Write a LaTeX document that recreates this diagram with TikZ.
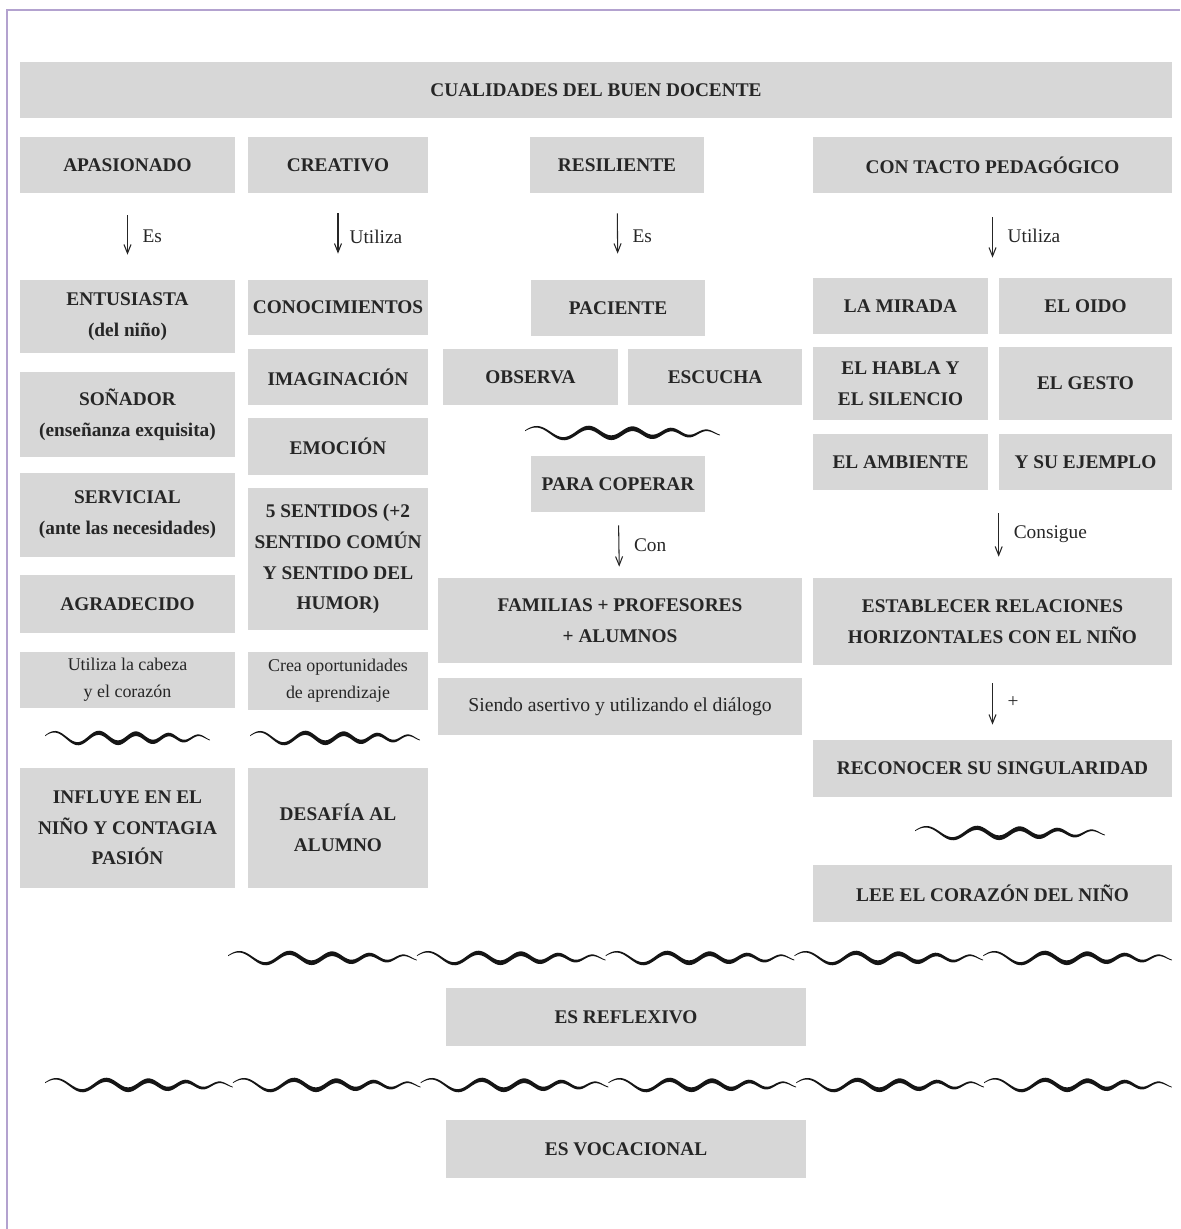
\documentclass[tikz,border=0pt]{standalone}
\usepackage{fontspec}
\setmainfont{Liberation Serif}
\usetikzlibrary{arrows.meta,positioning}
\definecolor{gris}{HTML}{D7D7D7}
\definecolor{texto}{HTML}{262626}
\definecolor{marco}{HTML}{B3A2CF}
\definecolor{tinta}{HTML}{151515}
\pgfmathdeclarefunction{ondaY}{1}{\pgfmathparse{(6.5-4*#1)*sin(360*(3.2*#1+1.4*#1*#1)+200)}}
\pgfmathdeclarefunction{ondaH}{1}{\pgfmathparse{0.4+2*sin(180*#1)}}
\newcommand{\onda}[3]{\fill[tinta] plot[variable=\t,domain=0:1,samples=80,smooth] ({#1+#3*\t},{#2+ondaY(\t)-ondaH(\t)}) -- plot[variable=\t,domain=0:1,samples=80,smooth] ({#1+#3*(1-\t)},{#2+ondaY(1-\t)+ondaH(1-\t)}) -- cycle;}
\tikzset{
  caja/.style={fill=gris,text=texto,inner sep=2pt,align=center,font=\bfseries\fontsize{11}{17.5}\selectfont},
  cajafina/.style={caja,font=\fontsize{10.2}{15.5}\selectfont},
  flecha/.style={-{Straight Barb[length=5pt,width=4pt]},line width=0.6pt,draw=texto},
  etiq/.style={font=\fontsize{11}{13}\selectfont,text=texto,right=5pt}
}
\begin{document}
\begin{tikzpicture}[x=0.02cm,y=-0.02cm]
\useasboundingbox (0,0) rectangle (1180,1229);
\draw[marco,line width=1.2pt] (1180,10) -- (7,10) -- (7,1229);
\node[caja,minimum width=23.04cm,minimum height=1.12cm] (titulo) at (596,90) {CUALIDADES DEL BUEN DOCENTE};
\node[caja,minimum width=4.3cm,minimum height=1.12cm] (apas) at (127.5,165) {APASIONADO};
\node[caja,minimum width=3.6cm,minimum height=1.12cm] (creat) at (338,165) {CREATIVO};
\node[caja,minimum width=3.48cm,minimum height=1.12cm] (resil) at (617,165) {RESILIENTE};
\node[caja,minimum width=7.18cm,minimum height=1.12cm] (tacto) at (992.5,165) {CON TACTO PEDAGÓGICO};
\node[caja,minimum width=4.3cm,minimum height=1.46cm] (entus) at (127.5,316.5) {ENTUSIASTA\\(del niño)};
\node[caja,minimum width=4.3cm,minimum height=1.7cm] (sonad) at (127.5,414.5) {SOÑADOR\\(enseñanza exquisita)};
\node[caja,minimum width=4.3cm,minimum height=1.68cm] (servi) at (127.5,515) {SERVICIAL\\(ante las necesidades)};
\node[caja,minimum width=4.3cm,minimum height=1.16cm] (agrad) at (127.5,604) {AGRADECIDO};
\node[cajafina,minimum width=4.3cm,minimum height=1.12cm] (cabeza) at (127.5,680) {Utiliza la cabeza\\y el corazón};
\node[caja,minimum width=4.3cm,minimum height=2.4cm] (influ) at (127.5,828) {INFLUYE EN EL\\NIÑO Y CONTAGIA\\PASIÓN};
\node[caja,minimum width=3.6cm,minimum height=1.1cm] (conoc) at (338,307.5) {CONOCIMIENTOS};
\node[caja,minimum width=3.6cm,minimum height=1.12cm] (imagi) at (338,377) {IMAGINACIÓN};
\node[caja,minimum width=3.6cm,minimum height=1.14cm] (emoci) at (338,446.5) {EMOCIÓN};
\node[caja,minimum width=3.6cm,minimum height=2.84cm] (senti) at (338,559) {5 SENTIDOS (+2\\SENTIDO COMÚN\\Y SENTIDO DEL\\HUMOR)};
\node[cajafina,minimum width=3.6cm,minimum height=1.16cm] (crea) at (338,681) {Crea oportunidades\\de aprendizaje};
\node[caja,minimum width=3.6cm,minimum height=2.4cm] (desaf) at (338,828) {DESAFÍA AL\\ALUMNO};
\node[caja,minimum width=3.48cm,minimum height=1.12cm] (pacie) at (618,308) {PACIENTE};
\node[caja,minimum width=3.5cm,minimum height=1.12cm] (obser) at (530.5,377) {OBSERVA};
\node[caja,minimum width=3.48cm,minimum height=1.12cm] (escu) at (715,377) {ESCUCHA};
\node[caja,minimum width=3.48cm,minimum height=1.12cm] (cooper) at (618,484) {PARA COPERAR};
\node[caja,minimum width=7.28cm,minimum height=1.7cm] (famil) at (620,620.5) {FAMILIAS + PROFESORES\\+ ALUMNOS};
\node[caja,font=\fontsize{11.2}{13}\selectfont,minimum width=7.28cm,minimum height=1.14cm] (asert) at (620,706.5) {Siendo asertivo y utilizando el diálogo};
\node[caja,minimum width=3.5cm,minimum height=1.12cm] (mirad) at (900.5,306) {LA MIRADA};
\node[caja,minimum width=3.46cm,minimum height=1.12cm] (oido) at (1085.5,306) {EL OIDO};
\node[caja,minimum width=3.5cm,minimum height=1.46cm] (habla) at (900.5,383.5) {EL HABLA Y\\EL SILENCIO};
\node[caja,minimum width=3.46cm,minimum height=1.46cm] (gesto) at (1085.5,383.5) {EL GESTO};
\node[caja,minimum width=3.5cm,minimum height=1.12cm] (ambie) at (900.5,462) {EL AMBIENTE};
\node[caja,minimum width=3.46cm,minimum height=1.12cm] (ejemp) at (1085.5,462) {Y SU EJEMPLO};
\node[caja,minimum width=7.18cm,minimum height=1.74cm] (establ) at (992.5,621.5) {ESTABLECER RELACIONES\\HORIZONTALES CON EL NIÑO};
\node[caja,minimum width=7.18cm,minimum height=1.14cm] (recon) at (992.5,768.5) {RECONOCER SU SINGULARIDAD};
\node[caja,minimum width=7.18cm,minimum height=1.14cm] (lee) at (992.5,893.5) {LEE EL CORAZÓN DEL NIÑO};
\node[caja,minimum width=7.2cm,minimum height=1.16cm] (refle) at (626,1017) {ES REFLEXIVO};
\node[caja,minimum width=7.2cm,minimum height=1.16cm] (vocac) at (626,1149) {ES VOCACIONAL};
\draw[flecha,shorten <=0.44cm,shorten >=0.5cm] (apas) -- node[etiq] {Es} (entus);
\draw[flecha,shorten <=0.4cm,shorten >=0.52cm] (creat) -- node[etiq,right=3pt] {Utiliza} (conoc);
\draw[flecha,shorten <=0.4cm,shorten >=0.52cm] (resil) -- node[etiq] {Es} (pacie);
\draw[flecha,shorten <=0.48cm,shorten >=0.4cm] (tacto) -- node[etiq,right=5pt] {Utiliza} (tacto |- mirad.north);
\draw[flecha,shorten <=0.26cm,shorten >=0.22cm] (cooper) -- node[etiq] {Con} (famil);
\draw[flecha,shorten <=0.46cm,shorten >=0.42cm] (ejemp.south west) -- node[etiq] {Consigue} (ejemp.south west |- establ.north);
\draw[flecha,shorten <=0.36cm,shorten >=0.3cm] (establ) -- node[etiq] {+} (recon);
\onda{45}{738}{165}
\onda{250}{738}{170}
\onda{525}{433}{195}
\onda{915}{833}{190}
\foreach \i in {0,...,4} {\onda{228+188.8*\i}{958}{188.8}}
\foreach \i in {0,...,5} {\onda{45+187.8*\i}{1085}{187.8}}
\end{tikzpicture}
\end{document}
